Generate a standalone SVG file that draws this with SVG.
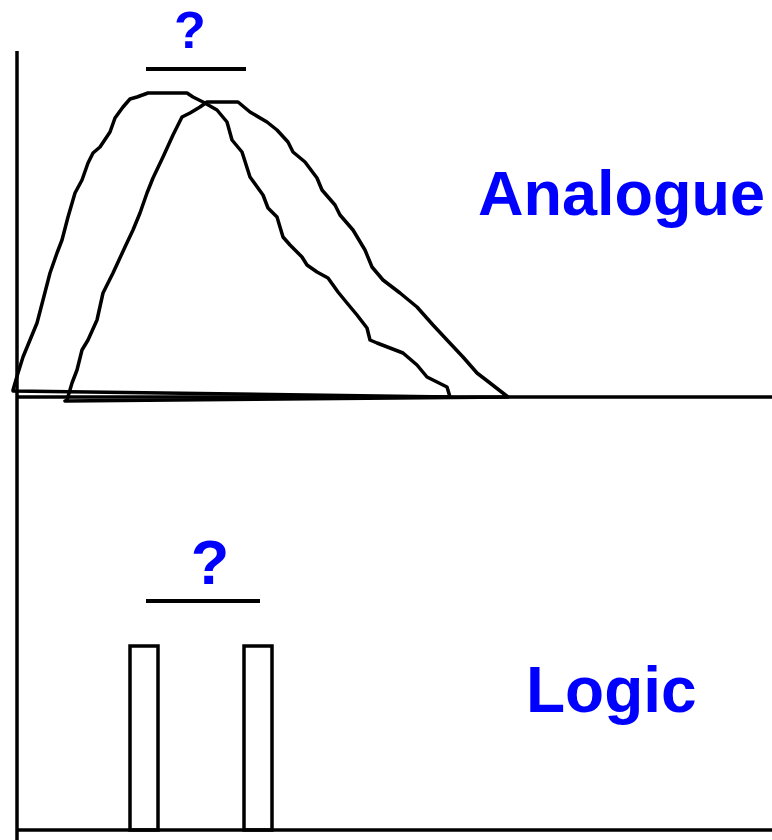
<svg xmlns="http://www.w3.org/2000/svg" width="772" height="840" viewBox="0 0 772 840">
<style>
.ax{stroke:#000;stroke-width:3.5;fill:none}
.cv{stroke:#000;stroke-width:3.5;fill:none;stroke-linejoin:round;stroke-linecap:round}
.lbl{font-family:"Liberation Sans",Arial,sans-serif;font-weight:bold;fill:#0000ff}
</style>
<rect width="772" height="840" fill="#fff"/>
<g id="axes">
<line class="ax" x1="17" y1="51" x2="17" y2="840"/>
<line class="ax" x1="17" y1="397" x2="772" y2="397"/>
<line class="ax" x1="17" y1="830" x2="772" y2="830"/>
</g>
<g id="analogue-curve-1">
<polyline class="cv" points="450,397 447,387 427,377 417,365 403,353 377,343 370,340 367,328 357,315 347,303 338,292 328,278 317,272 307,265 302,257 290,245 283,237 277,217 268,208 263,195 250,177 242,152 232,140 227,122 217,110 203,102 193,97 187,93 148,93 137,97 130,99 123,107 115,118 110,132 100,147 93,153 88,163 82,180 75,193 68,217 62,240 57,253 50,273 43,300 37,323 30,340 23,357 18,373 13,390 13,391 450,397"/>
</g>
<g id="analogue-curve-2">
<polyline class="cv" points="65,401 67,400 72,383 77,370 82,350 88,340 97,320 103,293 113,273 125,247 133,230 140,213 147,193 153,178 163,157 173,135 182,117 190,113 200,107 207,102 238,102 250,112 267,122 277,130 288,142 293,152 305,162 317,178 322,190 335,205 340,215 353,230 365,250 372,267 383,280 400,293 417,307 433,325 447,340 463,357 477,373 490,383 508,397 65,401"/>
</g>
<g id="analogue-question">
<line class="ax" x1="146" y1="69" x2="246" y2="69" style="stroke-width:4"/>
<text class="lbl" x="190" y="48" font-size="52" text-anchor="middle">?</text>
</g>
<g id="analogue-label">
<text class="lbl" x="478" y="215" font-size="63">Analogue</text>
</g>
<g id="logic-pulses">
<rect class="cv" x="130" y="646" width="28" height="184" style="stroke-linejoin:miter"/>
<rect class="cv" x="244" y="646" width="28" height="184" style="stroke-linejoin:miter"/>
</g>
<g id="logic-question">
<line class="ax" x1="146" y1="601" x2="260" y2="601" style="stroke-width:4"/>
<text class="lbl" x="210" y="584" font-size="63" text-anchor="middle">?</text>
</g>
<g id="logic-label">
<text class="lbl" x="526" y="712" font-size="64">Logic</text>
</g>
</svg>
